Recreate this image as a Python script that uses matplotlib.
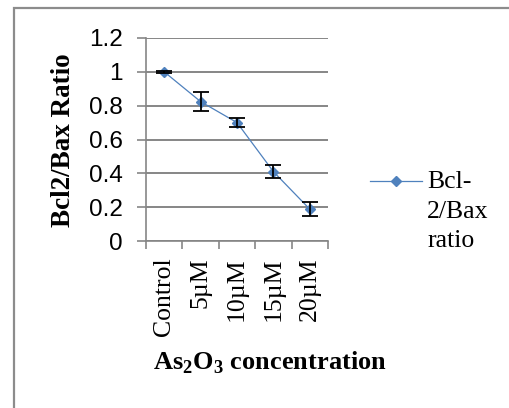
import matplotlib
matplotlib.use("Agg")
import matplotlib.pyplot as plt
from matplotlib.lines import Line2D
from matplotlib.patches import Rectangle

categories = ["Control", "5\u00b5M", "10\u00b5M", "15\u00b5M", "20\u00b5M"]
ratio = [1.0, 0.824, 0.70, 0.41, 0.188]
ratio_err = [0.005, 0.055, 0.027, 0.037, 0.042]
yticks = [0, 0.2, 0.4, 0.6, 0.8, 1, 1.2]
ytick_labels = ["0", "0.2", "0.4", "0.6", "0.8", "1", "1.2"]

W, H = 509, 408
blue = "#4F81BD"
grey = "#868686"
serif = "Liberation Serif"
sans = "Liberation Sans"

plt.rcParams["mathtext.fontset"] = "custom"
plt.rcParams["mathtext.rm"] = serif
plt.rcParams["mathtext.bf"] = serif + ":bold"

fig = plt.figure(figsize=(W / 100, H / 100), dpi=100)
fig.patch.set_facecolor("white")

# outer chart frame (only left and top edges visible)
fig.add_artist(Rectangle((14 / W, -0.1), 1.2, 1 - 8 / H + 0.1, transform=fig.transFigure,
                         fill=False, edgecolor="#8c8c8c", linewidth=1.6))

ax = fig.add_axes([146 / W, 1 - 241 / H, (328 - 146) / W, (241 - 38) / H])
x = list(range(len(categories)))
ax.plot(x, ratio, color=blue, linewidth=0.9, marker="D", markersize=5,
        markerfacecolor=blue, markeredgecolor=blue, zorder=3)
ax.errorbar(x, ratio, yerr=ratio_err, fmt="none", ecolor="black",
            elinewidth=1.3, capsize=6, capthick=1.3, zorder=4)

ax.set_xlim(-0.5, len(categories) - 0.5)
ax.set_ylim(0, 1.2)
ax.set_yticks(yticks)
ax.set_yticklabels(ytick_labels, fontfamily=sans, fontsize=17.5)
ax.yaxis.grid(True, color=grey, linewidth=1.4)
ax.set_axisbelow(True)

ax.set_xticks([i - 0.5 for i in range(len(categories) + 1)])
ax.set_xticklabels([])
ax.set_xticks(x, minor=True)
ax.set_xticklabels(categories, minor=True, rotation=90, fontfamily=serif,
                   fontsize=18.5, va="top")
ax.tick_params(axis="x", which="minor", length=0, pad=12)
ax.tick_params(axis="x", which="major", length=6, color=grey, width=1.2)
ax.tick_params(axis="y", length=6.5, color=grey, width=1.2, pad=10)

for s in ["top", "right"]:
    ax.spines[s].set_visible(False)
for s in ["left", "bottom"]:
    ax.spines[s].set_color(grey)
    ax.spines[s].set_linewidth(1.2)

fig.text(64 / W, 1 - 140 / H, "Bcl2/Bax Ratio", rotation=90, ha="center", va="center",
         fontfamily=serif, fontweight="bold", fontsize=19.5)
fig.text(270 / W, 1 - 363 / H, r"As$_\mathbf{2}$O$_\mathbf{3}$ concentration",
         ha="center", va="center", fontfamily=serif, fontweight="bold", fontsize=19)

# legend
fig.add_artist(Line2D([370 / W, 422 / W], [1 - 181 / H, 1 - 181 / H], transform=fig.transFigure,
                      color=blue, linewidth=0.9))
fig.add_artist(Line2D([396 / W], [1 - 181 / H], transform=fig.transFigure, marker="D",
                      markersize=5, color=blue))
fig.text(427 / W, 1 - 171 / H, "Bcl-\n2/Bax\nratio", ha="left", va="top",
         fontfamily=serif, fontsize=18.5, linespacing=1.45)

fig.savefig("out.png", dpi=100)
